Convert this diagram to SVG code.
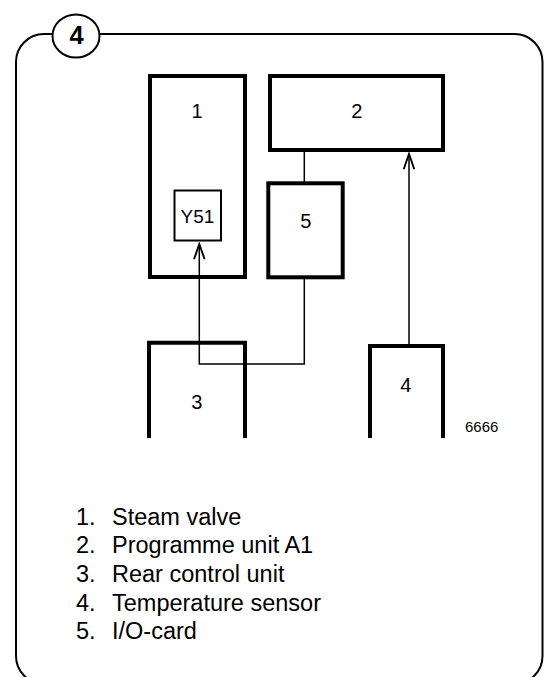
<svg xmlns="http://www.w3.org/2000/svg" width="553" height="677" viewBox="0 0 553 677">
<style>
.box{fill:none;stroke:#000;stroke-width:4}
.thin{fill:none;stroke:#000;stroke-width:2}
.wire{fill:none;stroke:#000;stroke-width:1.5}
.lbl{font-family:"Liberation Sans",Arial,sans-serif;font-size:20px;fill:#000;text-anchor:middle}
.leg{font-family:"Liberation Sans",Arial,sans-serif;font-size:23.5px;fill:#000}
</style>
<defs>
<marker id="arr" markerUnits="userSpaceOnUse" markerWidth="20" markerHeight="20" viewBox="-15 -8 17 16" refX="0" refY="0" orient="auto">
<path d="M-13,-4.5 L0,0 L-13,4.5" fill="none" stroke="#000" stroke-width="1.6"/>
</marker>
</defs>
<rect width="553" height="677" fill="#fff"/>
<g id="frame">
<rect x="16" y="34" width="526.5" height="650" rx="28" ry="28" class="thin"/>
<ellipse cx="76" cy="36" rx="23.5" ry="21.5" fill="#fff" stroke="#000" stroke-width="2"/>
<text x="76.5" y="43.5" font-family="Liberation Sans,Arial,sans-serif" font-size="25.5" font-weight="bold" text-anchor="middle">4</text>
</g>
<g id="connectors">
<path d="M304.3,150 V183" class="wire"/>
<path d="M304.3,279 V364 H199.3 V244" class="wire" marker-end="url(#arr)"/>
<path d="M409,344 V154" class="wire" marker-end="url(#arr)"/>
</g>
<g id="node1">
<rect x="150" y="76" width="95" height="201" class="box"/>
<text x="197" y="117.7" class="lbl">1</text>
</g>
<g id="nodeY51">
<rect x="174.5" y="190.5" width="46.5" height="50" class="thin"/>
<text x="197.5" y="223" class="lbl" style="font-size:19px">Y51</text>
</g>
<g id="node2">
<rect x="270" y="76" width="173" height="74" class="box"/>
<text x="356.7" y="117.7" class="lbl">2</text>
</g>
<g id="node5">
<rect x="268.3" y="183.3" width="74.4" height="94" class="box"/>
<text x="305.7" y="228" class="lbl">5</text>
</g>
<g id="node3">
<path d="M149,438 V342.7 H245 V438" class="box"/>
<text x="196.7" y="409" class="lbl">3</text>
</g>
<g id="node4">
<path d="M370,438 V346 H443 V438" class="box"/>
<text x="405.7" y="392" class="lbl">4</text>
</g>
<text x="465" y="432" font-family="Liberation Sans,Arial,sans-serif" font-size="15">6666</text>
<g id="legend" class="leg">
<text x="76" y="524.5">1.</text><text x="112" y="524.5">Steam valve</text>
<text x="76" y="553">2.</text><text x="112" y="553">Programme unit A1</text>
<text x="76" y="581.7">3.</text><text x="112" y="581.7">Rear control unit</text>
<text x="76" y="610.5">4.</text><text x="112" y="610.5">Temperature sensor</text>
<text x="76" y="639">5.</text><text x="112" y="639">I/O-card</text>
</g>
</svg>
